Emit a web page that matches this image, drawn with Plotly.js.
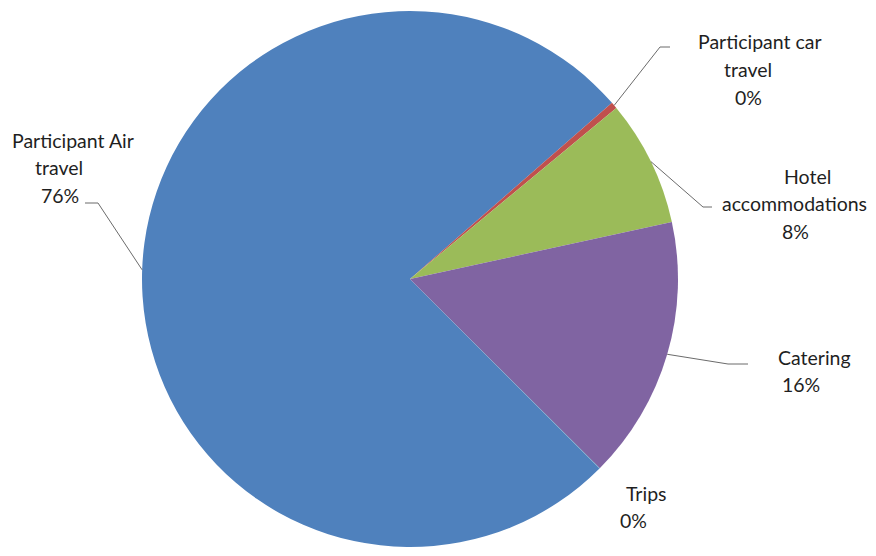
<!DOCTYPE html>
<html>
<head>
<meta charset="utf-8">
<script src="https://cdn.plot.ly/plotly-3.0.1.min.js"></script>
<style>html,body{margin:0;padding:0;background:#fff;}#chart{width:876px;height:556px;}</style>
</head>
<body>
<div id="chart"></div>
<script>
// ---- data ----
var categories = ['Participant Air\ntravel', 'Participant car\ntravel', 'Hotel\naccommodations', 'Catering', 'Trips'];
var values = [76.1, 0.4, 7.6, 15.9, 0.02];
var colors = ['#4F81BD', '#C0504D', '#9BBB59', '#8064A2', '#4BACC6'];

// ---- layout config ----
var W = 876, H = 556;
var CX = 410, CY = 279, R = 268;
var ROT = 135;
var FONT = 'Lato, "Open Sans", sans-serif';
var FS = 19.5;
var LINE = 27.5;
// label line centres (first line) and per-line x centres, leader elbows/ends (pixels)
var labelCfg = [
  {xs: [73, 59, 60], y: 140, elbow: [98, 203], end: [85, 203]},
  {xs: [760, 748, 748], y: 42, elbow: [660, 47], end: [670, 47]},
  {xs: [807, 794, 795], y: 176, elbow: [703, 207], end: [712, 207]},
  {xs: [814, 801], y: 357, elbow: [728, 364], end: [748, 364]},
  {xs: [646, 633], y: 493, elbow: null, end: null}
];

var total = values.reduce(function(a, b){return a + b;}, 0);
function px(x){return x / W;}
function py(y){return 1 - y / H;}

var annotations = [], shapes = [];
var cum = 0;
values.forEach(function(v, i){
  var mid = (ROT + 360 * (cum + v / 2) / total) * Math.PI / 180;
  cum += v;
  var lines = categories[i].split('\n');
  lines.push(Math.round(v / total * 100) + '%');
  var cfg = labelCfg[i];
  lines.forEach(function(t, k){
    annotations.push({
      xref: 'paper', yref: 'paper', x: px(cfg.xs[k]), y: py(cfg.y + k * LINE),
      xanchor: 'center', yanchor: 'middle', showarrow: false, text: t,
      font: {family: FONT, size: FS, color: '#1f1f1f'}
    });
  });
  if (cfg.elbow) {
    var ex = CX + R * Math.sin(mid), ey = CY - R * Math.cos(mid);
    shapes.push({
      type: 'path', xref: 'paper', yref: 'paper',
      path: 'M' + px(ex) + ',' + py(ey) + ' L' + px(cfg.elbow[0]) + ',' + py(cfg.elbow[1]) +
            ' L' + px(cfg.end[0]) + ',' + py(cfg.end[1]),
      line: {color: '#6b6b6b', width: 1}
    });
  }
});

var trace = {
  type: 'pie',
  labels: categories.map(function(c){return c.replace('\n', ' ');}),
  values: values,
  sort: false,
  direction: 'clockwise',
  rotation: ROT,
  textinfo: 'none',
  hoverinfo: 'label+percent',
  marker: {colors: colors, line: {width: 0}},
  domain: {x: [(CX - R) / W, (CX + R) / W], y: [1 - (CY + R) / H, 1 - (CY - R) / H]}
};

var layout = {
  width: W, height: H,
  margin: {l: 0, r: 0, t: 0, b: 0},
  showlegend: false,
  paper_bgcolor: '#ffffff',
  annotations: annotations,
  shapes: shapes
};

Plotly.newPlot('chart', [trace], layout, {displayModeBar: false, staticPlot: true});
</script>
</body>
</html>
